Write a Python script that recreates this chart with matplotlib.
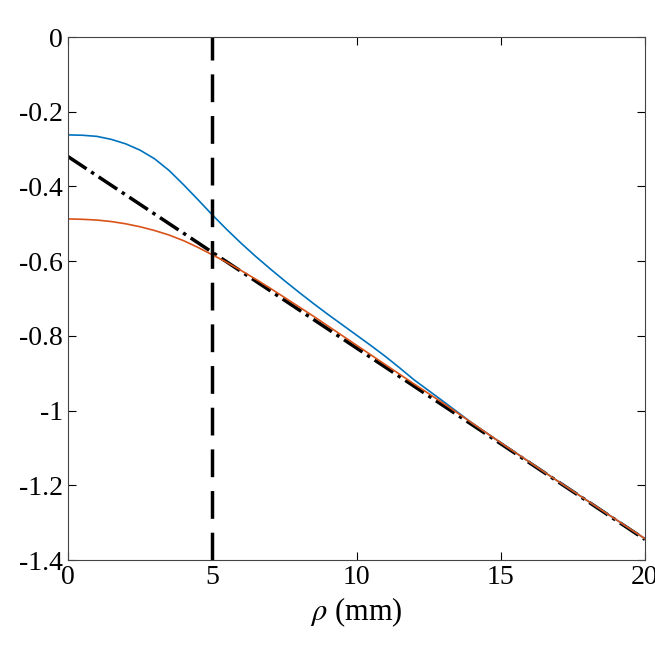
import numpy as np
import matplotlib.pyplot as plt

plt.rcParams['font.family'] = 'Liberation Serif'
plt.rcParams['mathtext.fontset'] = 'stix'

rho = [0, 0.5, 1, 1.5, 2, 2.5, 3, 3.5, 4, 4.5, 5, 5.5, 6, 6.5, 7, 7.5, 8, 8.5, 9, 9.5,
       10, 10.5, 11, 11.5, 12, 13, 14, 15, 16, 17, 18, 19, 20]
blue = [-0.262, -0.263, -0.266, -0.274, -0.286, -0.303, -0.326, -0.357, -0.395, -0.435,
        -0.476, -0.515, -0.552, -0.587, -0.62, -0.652, -0.683, -0.713, -0.742, -0.77,
        -0.798, -0.826, -0.855, -0.886, -0.918, -0.975, -1.033, -1.086, -1.138, -1.19,
        -1.241, -1.292, -1.343]
orange = [-0.487, -0.488, -0.49, -0.494, -0.5, -0.508, -0.518, -0.53, -0.545, -0.563,
          -0.583, -0.603, -0.625, -0.648, -0.672, -0.697, -0.722, -0.747, -0.773, -0.799,
          -0.825, -0.851, -0.877, -0.903, -0.929, -0.98, -1.033, -1.086, -1.138, -1.19,
          -1.241, -1.292, -1.343]
line_x = [0, 20]
line_y = [-0.32, -1.345]
rho_c = 5

fig = plt.figure(figsize=(6.55, 6.55), dpi=100)
ax = fig.add_axes([68/655, 1-560/655, 577/655, 523/655])
ax.plot(line_x, line_y, 'k-.', lw=2.5)
ax.plot(rho, blue, color='#0072BD', lw=1.2)
ax.plot(rho, orange, color='#D95319', lw=1.2)
ax.axvline(rho_c, color='k', ls='--', lw=2.5, dashes=(8, 4))
ax.set_xlim(0, 20)
ax.set_ylim(-1.4, 0)
ax.set_xticks([0, 5, 10, 15, 20])
ax.set_yticks(np.arange(-1.4, 0.01, 0.2))
ax.set_yticklabels(['-1.4', '-1.2', '-1', '-0.8', '-0.6', '-0.4', '-0.2', '0'])
ax.tick_params(direction='in', labelsize=20, top=True, right=True, length=6)
ax.set_xlabel(r'$\rho$ (mm)', fontsize=22)
ax.set_ylabel('ln( )', fontsize=22)
ax.yaxis.set_label_coords(-0.155, 0.5)
for s in ax.spines.values():
    s.set_color('#444444')
fig.savefig('out.png', dpi=100)
